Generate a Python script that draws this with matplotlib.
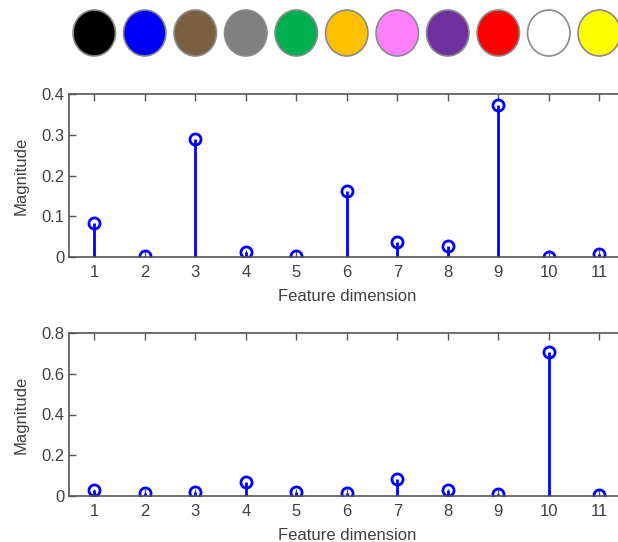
import matplotlib
matplotlib.use("Agg")
import matplotlib.pyplot as plt
from matplotlib.patches import Ellipse

# data
dims = [1, 2, 3, 4, 5, 6, 7, 8, 9, 10, 11]
top_mag = [0.083, 0.003, 0.29, 0.012, 0.003, 0.163, 0.038, 0.028, 0.372, 0.001, 0.008]
bottom_mag = [0.03, 0.015, 0.022, 0.07, 0.022, 0.015, 0.083, 0.03, 0.01, 0.705, 0.003]
swatch_colors = ["#000000", "#0000ff", "#7a6040", "#808080", "#00b050", "#ffc000",
                 "#ff80ff", "#7030a0", "#ff0000", "#ffffff", "#ffff00"]
top_ticks = [0, 0.1, 0.2, 0.3, 0.4]
top_labels = ["0", "0.1", "0.2", "0.3", "0.4"]
bottom_ticks = [0, 0.2, 0.4, 0.6, 0.8]
bottom_labels = ["0", "0.2", "0.4", "0.6", "0.8"]

plt.rcParams["font.family"] = ["Liberation Sans Narrow", "Liberation Sans", "DejaVu Sans"]
text_col = "#404040"

W, H = 618, 542
fig = plt.figure(figsize=(W / 100, H / 100), dpi=100)


def px_axes(left, top, right, bottom):
    return fig.add_axes([left / W, 1 - bottom / H, (right - left) / W, (bottom - top) / H])


# colour swatches row
ax_sw = px_axes(69, 0, 624.5, 66)
ax_sw.set_xlim(0.5, 11.5)
ax_sw.set_ylim(66, 0)
ax_sw.axis("off")
for d, c in zip(dims, swatch_colors):
    ax_sw.add_patch(Ellipse((d, 33), 0.84, 46, facecolor=c, edgecolor="#8a8a8a", linewidth=1.2))


def stem_panel(ax, values, ticks, labels):
    ml, sl, bl = ax.stem(dims, values, linefmt="-", markerfmt="o", basefmt=" ")
    plt.setp(sl, color="#0000ff", linewidth=2)
    plt.setp(ml, markerfacecolor="none", markeredgecolor="#0000ff", markersize=8, markeredgewidth=2)
    ax.set_xlim(0.5, 11.5)
    ax.set_ylim(ticks[0], ticks[-1])
    ax.set_xticks(dims)
    ax.set_yticks(ticks)
    ax.set_yticklabels(labels)
    ax.tick_params(direction="in", top=True, right=True, length=5, width=1,
                   colors="#555555", labelcolor=text_col, labelsize=12)
    ax.tick_params(axis="x", pad=6)
    for s in ax.spines.values():
        s.set_color("#555555")
        s.set_linewidth(1.2)
    ax.set_xlabel("Feature dimension", fontsize=12, color=text_col, labelpad=6)
    ax.set_ylabel("Magnitude", fontsize=12, color=text_col, labelpad=9)


ax1 = px_axes(69, 94, 624.5, 257)
stem_panel(ax1, top_mag, top_ticks, top_labels)

ax2 = px_axes(69, 333, 624.5, 496)
stem_panel(ax2, bottom_mag, bottom_ticks, bottom_labels)

fig.savefig("out.png", dpi=100)
